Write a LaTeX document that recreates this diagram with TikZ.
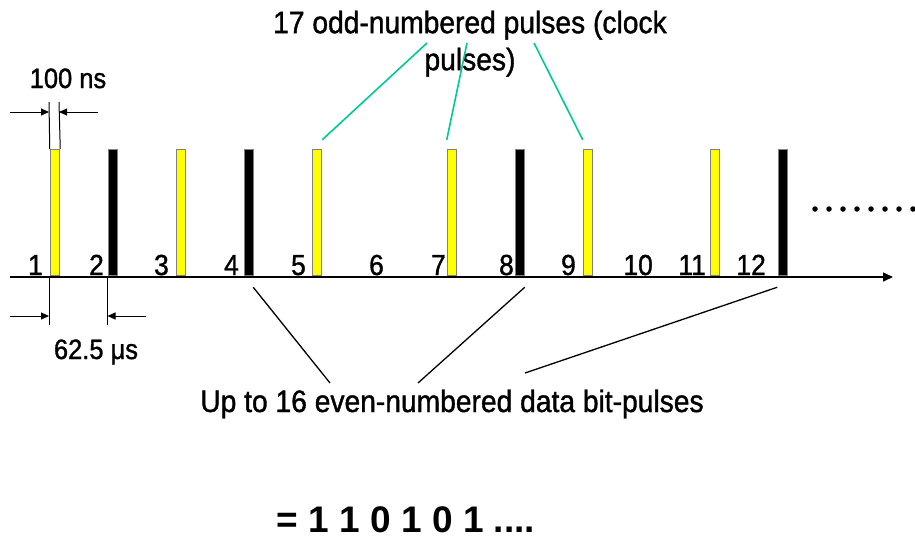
\documentclass[tikz,border=0pt]{standalone}
\usepackage{fontspec}
\setmainfont[FakeStretch=0.91,FakeBold=1.2]{Liberation Sans}
\newfontfamily\eqfont{Liberation Sans}
\usetikzlibrary{calc,arrows.meta}
\definecolor{teal2}{RGB}{0,200,150}
\definecolor{pyellow}{RGB}{255,255,0}
\begin{document}
\begin{tikzpicture}[x=1pt,y=-1pt,
  clockbar/.style={draw=gray,line width=1.5pt,fill=pyellow,minimum width=9pt,minimum height=126pt,inner sep=0pt,anchor=south west},
  databar/.style={draw=gray,line width=1.5pt,fill=black,minimum width=9pt,minimum height=126pt,inner sep=0pt,anchor=south west},
  numlbl/.style={font=\fontsize{29}{29}\selectfont,inner sep=0pt,anchor=base east},
  biglbl/.style={font=\fontsize{31}{37}\selectfont,inner sep=0pt,align=center},
  dimlbl/.style={font=\fontsize{28}{28}\selectfont,inner sep=0pt,anchor=base},
  tealline/.style={draw=teal2,line width=1.6pt},
  blkline/.style={draw=black,line width=1.3pt},
  dimline/.style={draw=black,line width=1pt},
  dimarrow/.style={draw=black,line width=1pt,-{Triangle[length=8pt,width=7pt]}},
  dotmark/.style={circle,fill=black,inner sep=0pt,minimum size=5.5pt}
]
\useasboundingbox (0,0) rectangle (915,539);

% axis
\coordinate (ax0) at (10,277);
\coordinate (ax1) at (893,277);
\draw[line width=1.5pt,-{Triangle[length=10pt,width=9pt]}] (ax0) -- (ax1);

% bars
\node[clockbar] (b1)  at (49.75,276.25) {};
\node[databar]  (b2)  at (107.75,276.25) {};
\node[clockbar] (b3)  at (175.75,276.25) {};
\node[databar]  (b4)  at (243.75,276.25) {};
\node[clockbar] (b5)  at (311.75,276.25) {};
\node[clockbar] (b7)  at (446.75,276.25) {};
\node[databar]  (b8)  at (514.75,276.25) {};
\node[clockbar] (b9)  at (582.75,276.25) {};
\node[clockbar] (b11) at (709.75,276.25) {};
\node[databar]  (b12) at (777.75,276.25) {};

% numbers
\node[numlbl] (n1)  at (43,275) {1};
\node[numlbl] (n2)  at (104,275) {2};
\node[numlbl] (n3)  at (169,275) {3};
\node[numlbl] (n4)  at (239,275) {4};
\node[numlbl] (n5)  at (306,275) {5};
\node[numlbl] (n6)  at (384,275) {6};
\node[numlbl] (n7)  at (446,275) {7};
\node[numlbl] (n8)  at (514,275) {8};
\node[numlbl] (n9)  at (576,275) {9};
\node[numlbl] (n10) at (653,275) {10};
\node[numlbl] (n11) at (706,275) {11};
\node[numlbl] (n12) at (766,275) {12};

% dots
\foreach \i in {0,...,7} {
  \node[dotmark] (d\i) at (815+14*\i,209) {};
}

% 100 ns dimension
\coordinate (t1) at (49,102);
\coordinate (t2) at (59,102);
\draw[dimline] (t1) -- (b1.north west);
\draw[dimline] (t2) -- (b1.north east);
\coordinate (ta) at (10,112);
\coordinate (ta1) at (49,112);
\coordinate (tb) at (98,112);
\coordinate (tb1) at (59,112);
\draw[dimarrow] (ta) -- (ta1);
\draw[dimarrow] (tb) -- (tb1);
\node[dimlbl] (l100) at (68,88) {100 ns};

% 62.5 us dimension
\coordinate (u1) at (49,277);
\coordinate (u1b) at (49,325);
\coordinate (u2) at (107.5,277);
\coordinate (u2b) at (107.5,325);
\draw[dimline] (u1) -- (u1b);
\draw[dimline] (u2) -- (u2b);
\coordinate (ua) at (10,316);
\coordinate (ua1) at (49,316);
\coordinate (ub) at (146,316);
\coordinate (ub1) at (107.5,316);
\draw[dimarrow] (ua) -- (ua1);
\draw[dimarrow] (ub) -- (ub1);
\node[dimlbl] (l625) at (96,359) {62.5 μs};

% top label
\node[biglbl,anchor=north] (top) at (470,10.5) {17 odd-numbered pulses (clock\\pulses)};
\coordinate (g1) at (427,43);
\coordinate (g2) at (467,43);
\coordinate (g3) at (534,43);
\draw[tealline] (g1) -- ($(b5.north east)+(0,-9)$);
\draw[tealline] (g2) -- ($(b7.north west)+(0,-9)$);
\draw[tealline] (g3) -- ($(b9.north west)+(0,-9)$);

% bottom label
\node[biglbl,anchor=base] (bot) at (452,412) {Up to 16 even-numbered data bit-pulses};
\coordinate (k1) at (330,383);
\coordinate (k2) at (418,383);
\coordinate (k3) at (525,373);
\draw[blkline] ($(b4.south west)+(9.5,11)$) -- (k1);
\draw[blkline] ($(b8.south east)+(-0.5,11)$) -- (k2);
\draw[blkline] ($(b12.south west)+(-0.5,11)$) -- (k3);

% equation
\node[font={\eqfont\bfseries\fontsize{37}{37}\selectfont},inner sep=0pt,anchor=base] (eq) at (406,532) {= 1 1 0 1 0 1 ....};
\end{tikzpicture}
\end{document}
